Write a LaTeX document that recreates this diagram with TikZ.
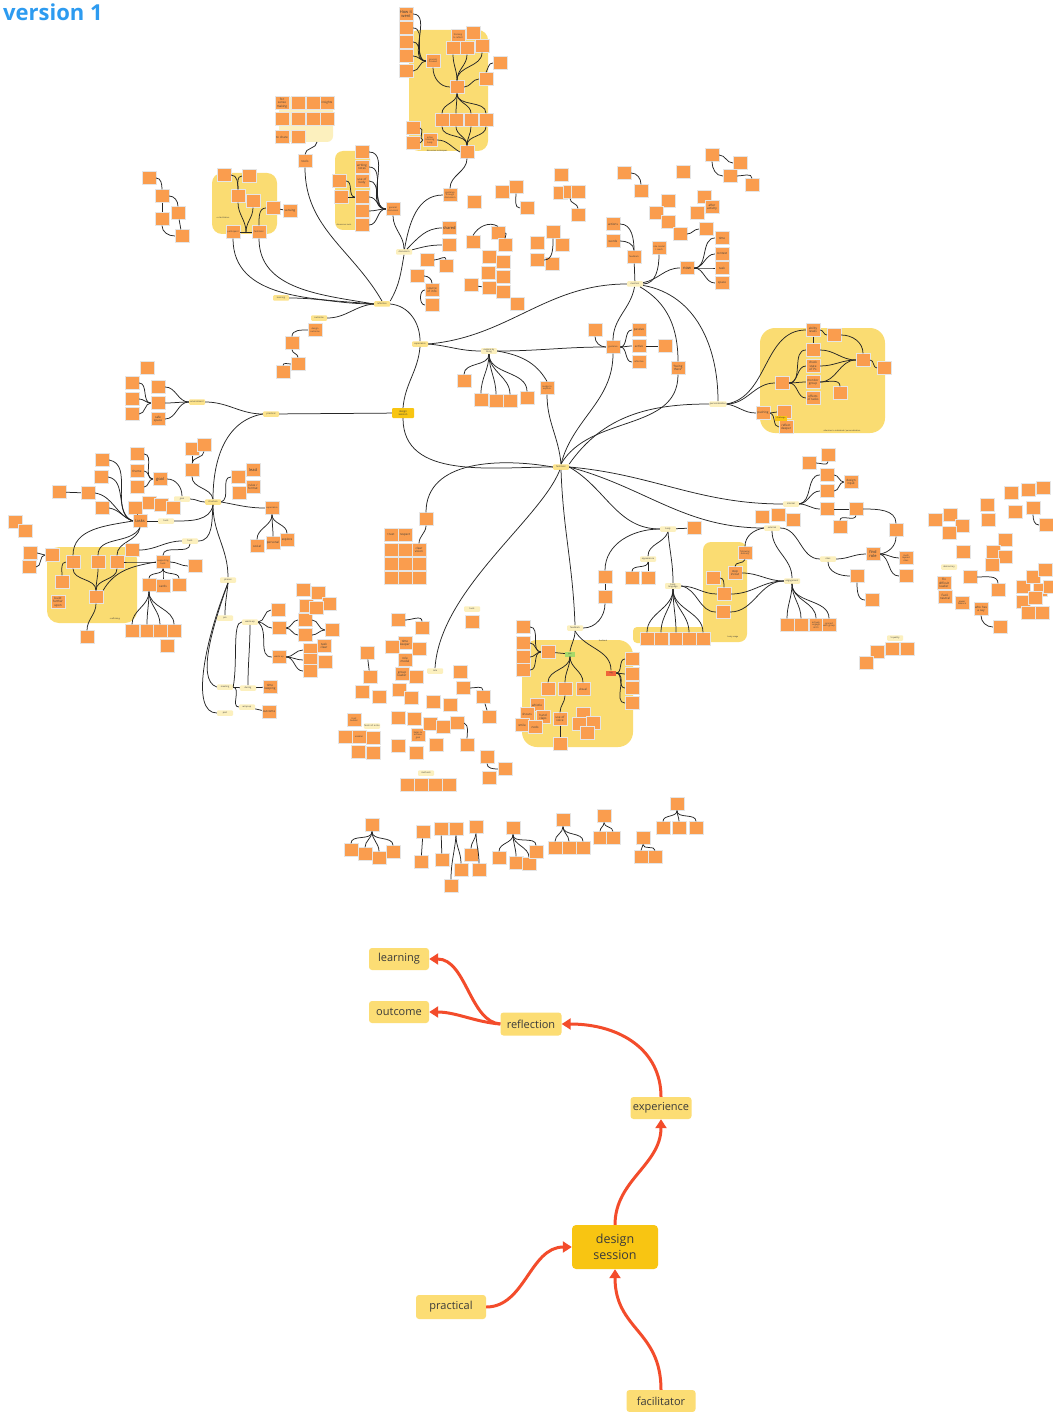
\documentclass[tikz,border=0pt]{standalone}
\usepackage{fontspec}
\setmainfont{Open Sans}
\usetikzlibrary{arrows.meta}
\definecolor{noteC}{HTML}{FA9D4E}
\definecolor{grpC}{HTML}{FADC72}
\definecolor{paleC}{HTML}{FCF0BE}
\definecolor{hubC}{HTML}{FCE38C}
\definecolor{dsC}{HTML}{F8C512}
\definecolor{bigC}{HTML}{FCDD74}
\definecolor{arrC}{HTML}{F34C2B}
\definecolor{titleC}{HTML}{2D9BF0}
\definecolor{txtC}{HTML}{3A3A3A}
\definecolor{posC}{HTML}{A6D96A}
\definecolor{negC}{HTML}{F0653A}
\newcommand\NT[5][]{\node[nt,#1] (#2) at (#3,#4) {#5};}
\newcommand\HB[5][]{\node[hb,#1] (#2) at (#3,#4) {#5};}
\newcommand\LN[4]{\draw[ln] (#1) to[out=#3,in=#4] (#2);}
\tikzset{
  nt/.style={fill=noteC, draw=black!10, line width=0.3pt, minimum width=14pt, minimum height=13pt, inner sep=0.3pt, text width=12.5pt, align=center, text=txtC, font=\fontsize{2.2}{2.5}\selectfont},
  bigt/.style={font=\fontsize{4}{4.4}\selectfont},
  midt/.style={font=\fontsize{3}{3.3}\selectfont},
  hb/.style={fill=hubC, rounded corners=1pt, minimum width=16pt, minimum height=5.5pt, inner sep=0.6pt, text=txtC, align=center, font=\fontsize{2.2}{2.5}\selectfont},
  pl/.style={fill=paleC},
  ln/.style={draw=black!85, line width=0.75pt},
  glab/.style={text=txtC, inner sep=0, font=\fontsize{2}{2.3}\selectfont},
  big/.style={fill=bigC, rounded corners=3pt, text=txtC, inner sep=0pt, align=center, font=\fontsize{11}{12}\selectfont},
  arr/.style={draw=arrC, line width=3pt, -{Triangle[length=9pt,width=11pt]}},
}
\begin{document}
\begin{tikzpicture}[x=1pt,y=-1pt]
\fill[white] (0,0) rectangle (1052,1412);
\useasboundingbox (0,0) rectangle (1052,1412);

% title
\node[anchor=north west, inner sep=0, text=titleC, font=\fontsize{22}{24}\selectfont\bfseries] (title) at (3,4) {version 1};

% ---------- group backgrounds ----------
\fill[grpC, rounded corners=10pt] (409,30) rectangle (488,151);
\fill[paleC, rounded corners=6pt] (279,97) rectangle (333,142);
\fill[grpC, rounded corners=10pt] (212,173) rectangle (277,234);
\fill[grpC, rounded corners=8pt] (335,151) rectangle (370,230);
\fill[grpC, rounded corners=15pt] (760,328) rectangle (885,433);
\fill[grpC, rounded corners=12pt] (47,547) rectangle (137,623);
\fill[grpC, rounded corners=15pt] (522,640) rectangle (633,747);
\fill[grpC, rounded corners=8pt] (703,542) rectangle (747,642);
\fill[grpC, rounded corners=4pt] (633,627) rectangle (711,643);
\node[glab] (gl1) at (437,151) {discussion techniques};
\node[glab] (gl2) at (223,218) {co-facilitation};
\node[glab] (gl3) at (344,225) {discussion tools};
\node[glab] (gl4) at (842,431) {attention to individual / personalisation};
\node[glab] (gl5) at (115,619) {scaffolding};
\node[glab] (gl6) at (603,641) {feedback};
\node[glab] (gl7) at (733,637) {body usage};

% ---------- hubs ----------
\node[fill=dsC, rounded corners=1pt, minimum width=22pt, minimum height=10pt, inner sep=0.5pt, align=center, text=txtC, font=\fontsize{2.6}{3}\selectfont] (ds) at (403,413) {design\\session};
\HB{refl}{382}{304}{reflection}
\HB{exper}{420}{344}{experience}
\HB{prac}{271}{414}{practical}
\HB{facil}{561}{467}{facilitator}
\HB{learnT}{281}{298}{learning}
\HB{outT}{319}{318}{outcome}
\HB[pl]{ebd}{489}{351}{explore by\\doing}
\HB[pl]{disc}{404}{252}{discussion}
\HB[pl]{ment}{635}{284}{mention}
\HB[pl]{pers}{718}{404}{personalisation}
\HB{struct}{213}{502}{structure}
\HB[pl]{phases}{228}{580}{phases}
\HB[pl]{goalH}{182}{499}{goal}
\HB[pl]{toolsH}{166}{521}{tools}
\HB[pl]{toolsHb}{190}{541}{tools}
\HB[pl]{internal}{791}{504}{internal}
\HB[pl]{external}{772}{528}{external}
\HB[pl]{body}{668}{529}{body}
\HB[pl]{roles}{828}{559}{roles}
\HB[pl]{engage}{792}{581}{engagement}
\HB[pl]{bodyl}{673}{586}{body\\language}
\HB[pl]{appear}{648}{559}{appearance}
\HB[pl]{fb}{575}{628}{feedback}
\HB[pl]{roleH}{435}{671}{role}
\HB[pl]{toolsHc}{472}{609}{tools}
\HB[pl]{methods}{426}{773}{methods}
\HB[pl]{facets}{372}{726}{facets of a role}
\HB[pl]{warm}{250}{622}{warm-up}
\HB[pl]{meeting}{225}{687}{meeting}
\HB[pl]{during}{248}{688}{during}
\HB[pl]{wrap}{247}{707}{wrap-up}
\HB[pl]{post}{225}{713}{post}
\HB[pl]{pre}{225}{618}{pre}
\HB[pl]{democ}{949}{567}{democracy}
\HB[pl]{qual}{895}{638}{5 quality}
\HB{envH}{197}{402}{environment}

% ---------- region A: top group ----------
\NT[bigt]{a1}{406}{14}{How it went}
\NT{a2}{406}{28}{}
\NT{a3}{406}{42}{}
\NT{a4}{406}{56}{}
\NT{a5}{406}{71}{}
\NT{a6}{433}{61}{process focused}
\NT{a7}{458}{36}{thinking to reflect}
\NT{a8}{473}{33}{}
\NT{a9}{453}{48}{}
\NT{a10}{467}{48}{}
\NT{a11}{482}{46}{}
\NT{a12}{500}{63}{}
\NT{a13}{486}{79}{}
\NT{a14}{457}{87}{}
\NT{a15}{442}{120}{}
\NT{a16}{456}{120}{}
\NT{a17}{471}{120}{}
\NT{a18}{486}{120}{}
\NT{a19}{467}{152}{}
\NT{a20}{430}{140}{active listening body}
\NT{a21}{413}{128}{}
\NT{a22}{413}{143}{}
\foreach \i in {1,...,5} {\LN{a\i.east}{a6.west}{0}{180}}
\LN{a6.south}{a14.west}{-90}{180}
\foreach \i in {9,10,11} {\LN{a\i.south}{a14.north}{-90}{90}}
\LN{a14.east}{a13.west}{0}{180}
\LN{a13.north}{a12.west}{60}{180}
\foreach \i in {15,...,18} {\LN{a14.south}{a\i.north}{-90}{90}\LN{a\i.south}{a19.north}{-90}{90}}
\LN{a20.east}{a19.west}{0}{150}
\LN{a21.east}{a20.west}{0}{180}
\LN{a22.east}{a20.west}{0}{180}

% ---------- region B: tools grid ----------
\NT[midt]{b1}{282}{103}{for sense making}
\NT{b2}{298}{103}{}
\NT{b3}{313}{103}{}
\NT[midt]{b4}{327}{103}{insights}
\NT{b5}{282}{119}{}
\NT{b6}{298}{119}{}
\NT{b7}{313}{119}{}
\NT{b8}{327}{119}{}
\NT[midt]{b9}{282}{137}{to share}
\NT{b10}{298}{137}{}
\coordinate (bB) at (317,142);
\NT[midt]{bT}{305}{161}{tools}
\LN{bB}{bT.north}{-90}{90}
\LN{bT.south}{refl.north}{-90}{120}

% ---------- region C ----------
\NT{c1}{149}{178}{}
\NT{c2}{162}{196}{}
\NT{c3}{178}{213}{}
\NT{c4}{162}{219}{}
\NT{c5}{182}{236}{}
\LN{c1.east}{c2.north}{0}{90}
\LN{c2.east}{c3.north}{0}{90}
\draw[ln] (c2) -- (c4);
\LN{c4.south}{c5.west}{-90}{180}
\draw[ln] (c3) -- (c5);

% ---------- region D ----------
\NT{d1}{224}{175}{}
\NT{d2}{249}{176}{}
\NT{d3}{238}{196}{}
\NT{d4}{253}{201}{}
\NT{d5}{273}{208}{}
\NT[midt]{d6}{290}{211}{sensing}
\NT{d7}{233}{232}{participant}
\NT{d8}{259}{232}{facilitator}
\LN{d1.east}{d3.north}{0}{90}
\LN{d2.west}{d3.north}{180}{90}
\coordinate (dj) at (246,232);
\LN{d3.south}{dj}{-90}{90}
\LN{d4.south}{dj}{-90}{90}
\draw[ln] (d7) -- (d8);
\LN{d5.west}{d8.north}{180}{90}
\draw[ln] (d5) -- (d6);
\LN{d7.south}{refl.west}{-90}{175}
\LN{d8.south}{refl.west}{-90}{170}

% ---------- region E ----------
\NT{e1}{362}{152}{}
\NT[midt]{e2}{362}{167}{writing notes}
\NT[midt]{e3}{362}{181}{use of body}
\NT{e4}{362}{197}{}
\NT{e5}{362}{211}{}
\NT{e6}{362}{225}{}
\NT{e7}{339}{181}{}
\NT{e8}{341}{197}{}
\NT{eH}{393}{209}{general discussion}
\foreach \i in {1,...,6} {\LN{e\i.east}{eH.west}{0}{180}}
\LN{e7.east}{e4.west}{0}{180}
\LN{e8.east}{e4.west}{0}{180}
\LN{eH.south}{disc.north}{-90}{90}

% ---------- region F ----------
\NT{f1}{450}{195}{guidance through discussion}
\NT[bigt]{f2}{449}{228}{shared}
\NT{f3}{449}{245}{}
\LN{disc}{f1.west}{80}{180}
\LN{disc}{f2.west}{45}{180}
\LN{disc}{f3.west}{15}{180}
\LN{a19.south}{f1.north}{-90}{90}
\LN{disc.south}{refl.north east}{-100}{60}
\NT[midt]{f4}{432}{290}{source of info}
\NT{f5}{432}{305}{}
\NT{f6}{417}{276}{}
\LN{f6.east}{f4.north}{0}{90}
\LN{f4.west}{f5.west}{180}{180}
\NT{f7}{427}{260}{}
\NT{f8}{446}{266}{}
\LN{f7.east}{f8.north}{0}{90}
\foreach \x/\y [count=\i] in {474/202,502/192,516/187,527/208,473/242,498/233,505/245,489/257,503/262,488/273,503/277,471/285,489/288,503/292,517/304,561/175,560/193,570/192,578/192,578/215,553/232,537/243,562/245,537/260,552/264} {\node[nt] (fs\i) at (\x,\y) {};}
\LN{fs6.north}{fs5.north}{150}{60}
\LN{fs6.east}{fs7.north}{0}{90}
\LN{fs3.south}{fs4.west}{-90}{180}
\draw[ln] (fs12) -- (fs13);
\LN{fs18.south}{fs20.north}{-90}{90}
\LN{fs24.east}{fs21.south}{0}{-90}

% ---------- region G: mention ----------
\NT{g1}{624}{173}{}
\NT{g2}{641}{191}{}
\LN{g1.east}{g2.north}{0}{90}
\NT{g3}{683}{172}{}
\NT{g4}{712}{155}{}
\NT{g5}{740}{163}{}
\NT{g6}{730}{176}{}
\NT{g7}{752}{185}{}
\LN{g4.east}{g5.west}{0}{180}
\LN{g4.south}{g6.west}{-90}{180}
\LN{g6.east}{g7.north}{0}{90}
\NT{g8}{704}{197}{}
\NT[midt]{g9}{712}{207}{after activity}
\NT{g10}{697}{213}{}
\NT{g11}{668}{201}{}
\NT{g12}{656}{213}{}
\NT{g13}{668}{222}{}
\NT{g14}{680}{234}{}
\NT{g15}{706}{229}{}
\LN{g14.east}{g15.west}{0}{180}
\NT[midt]{gAct}{613}{224}{actions}
\NT[midt]{gWor}{613}{241}{words}
\NT{gFb}{634}{257}{feedback}
\LN{gAct.east}{gFb.north}{0}{90}
\LN{gWor.east}{gFb.north}{0}{90}
\draw[ln] (gFb) -- (ment);
\NT{gRole}{659}{248}{role model / coach}
\LN{ment}{gRole.south}{0}{-90}
\NT[bigt]{gNow}{687}{268}{now}
\LN{ment}{gNow.west}{10}{180}
\NT[midt]{gTime}{722}{238}{time}
\NT[midt]{gCtx}{722}{254}{context}
\NT[midt]{gTask}{722}{268}{task}
\NT[midt]{gSpace}{722}{283}{space}
\foreach \n in {gTime,gCtx,gTask,gSpace} {\LN{gNow.east}{\n.west}{0}{180}}
\NT{gGuid}{613}{347}{guidance}
\LN{ment}{gGuid.north}{-100}{90}
\NT[midt]{gPass}{639}{330}{passive}
\NT[midt]{gAct2}{639}{346}{active}
\NT{gRefl}{639}{362}{reflective}
\foreach \n in {gPass,gAct2,gRefl} {\LN{gGuid.east}{\n.west}{0}{180}}
\NT{gExp}{665}{346}{}
\draw[ln] (gAct2) -- (gExp);
\NT{gG0}{595}{330}{}
\LN{gG0.south}{gGuid.west}{-90}{180}
\NT[midt]{gBeing}{678}{368}{``being there''}
\LN{ment}{gBeing.north}{-30}{90}
\LN{ment}{pers.north}{-10}{90}
\LN{exper.east}{ment.west}{5}{180}
\LN{exper.east}{ebd.west}{-5}{180}
\LN{ebd.east}{gGuid.west}{0}{180}
\NT{h1}{464}{381}{}
\NT{h2}{481}{400}{}
\NT{h3}{496}{401}{}
\NT{h4}{510}{401}{}
\NT{h5}{527}{398}{}
\NT{h6}{547}{388}{nudge to explore}
\foreach \i in {1,...,5} {\LN{ebd.south}{h\i.north}{-90}{90}}
\LN{ebd.east}{h6.north}{-10}{120}
\LN{facil.north}{h6.south}{95}{-90}
\LN{facil.north}{gGuid.south}{75}{-90}
\LN{facil.north}{gBeing.south}{60}{-90}
\LN{facil.north east}{pers.west}{55}{180}

% ---------- personalisation group ----------
\NT[midt]{p1}{813}{330}{ability levels}
\NT{p2}{834}{335}{}
\NT{p3}{813}{350}{}
\NT[midt]{p4}{813}{366}{check state of Ps}
\NT[midt]{p5}{813}{382}{monitor group}
\NT[midt]{p6}{813}{398}{effects of tasks}
\NT{p7}{782}{383}{}
\NT{p8}{863}{360}{}
\NT{p9}{884}{368}{}
\NT{p10}{840}{393}{}
\NT[midt]{p11}{763}{413}{pushing}
\NT{p12}{784}{412}{}
\NT[midt]{p13}{786}{427}{reflect deeper}
\node[fill=dsC, minimum width=12pt, minimum height=5pt, inner sep=0.3pt, font=\fontsize{2}{2.3}\selectfont, text=txtC] (p14) at (781,418) {challenge};
\LN{pers.east}{p7.west}{0}{180}
\LN{pers.east}{p1.west}{10}{180}
\LN{pers.east}{p11.west}{-10}{180}
\foreach \i in {3,4,5,6} {\LN{p7.east}{p\i.west}{0}{180}}
\draw[ln] (p1) -- (p3);
\LN{p1.east}{p2.west}{0}{180}
\LN{p2.east}{p8.north}{0}{90}
\foreach \i in {3,4,5} {\LN{p\i.east}{p8.west}{0}{180}}
\LN{p8.east}{p9.west}{0}{180}
\LN{p5.east}{p10.north}{0}{90}
\LN{p11.east}{p12.west}{0}{180}
\LN{p11.east}{p13.west}{-20}{180}

% ---------- learning / outcome ----------
\LN{refl.west}{learnT.east}{180}{0}
\LN{refl.west}{outT.east}{185}{0}
\NT{k1}{315}{330}{design outcome}
\NT{k2}{292}{343}{}
\NT{k3}{298}{364}{}
\NT{k4}{283}{372}{}
\LN{k1.west}{k2.north}{180}{90}
\LN{k2.south}{k3.north}{-90}{90}
\LN{k3.west}{k4.north}{180}{90}

% ---------- practical ----------
\draw[ln] (prac) -- (ds);
\LN{prac.west}{envH.east}{180}{0}
\LN{prac.west}{struct.north}{190}{90}
\NT{v1}{147}{368}{}
\NT{v2}{132}{383}{}
\NT{v3}{132}{399}{}
\NT{v4}{132}{414}{}
\NT{v5}{158}{387}{}
\NT{v6}{158}{403}{}
\NT[midt]{v7}{158}{419}{safe space}
\foreach \i in {5,6,7} {\LN{v\i.east}{envH.west}{0}{180}}
\foreach \i in {2,3,4} {\LN{v\i.east}{v6.west}{0}{180}}
\LN{exper.south}{ds.north}{-95}{85}
\LN{refl.east}{exper.north}{-5}{90}
\LN{ds.south}{facil.west}{-90}{180}

% ---------- structure ----------
\NT{s1}{192}{449}{}
\NT{s2}{204}{445}{}
\NT{s3}{192}{470}{}
\draw[ln] (s1) -- (s3);
\LN{s2.south}{s3.north}{-90}{90}
\LN{s3.south}{struct.north}{-90}{100}
\NT{s4}{238}{477}{}
\NT[bigt]{s5}{253}{470}{lead}
\NT[midt]{s6}{253}{487}{rules / format}
\NT{s7}{239}{493}{}
\LN{struct.east}{s4.west}{20}{180}
\LN{struct.west}{goalH.east}{180}{0}
\NT[bigt]{sGoal}{160}{479}{goal}
\LN{sGoal.east}{goalH.north}{0}{90}
\NT{s8}{137}{454}{}
\NT[midt]{s9}{137}{471}{theme}
\NT{s10}{137}{487}{}
\foreach \i in {8,9,10} {\LN{s\i.east}{sGoal.west}{0}{180}}
\NT{s11}{149}{503}{}
\NT{s12}{161}{505}{}
\NT{s13}{173}{508}{}
\LN{struct.south}{toolsH.east}{-100}{0}
\NT[bigt]{sTasks}{140}{521}{tasks}
\draw[ln] (toolsH) -- (sTasks);
\NT{t1}{102}{460}{}
\NT{t2}{101}{477}{}
\NT{t3}{88}{493}{}
\NT{t4}{102}{508}{}
\NT{t5}{135}{508}{}
\NT{t6}{59}{492}{}
\foreach \i in {1,2,3,4} {\LN{t\i.east}{sTasks.west}{-10}{160}}
\draw[ln] (t5) -- (sTasks);
\draw[ln] (t6) -- (t3);
\NT{sc1}{73}{562}{}
\NT{sc2}{98}{562}{}
\NT{sc3}{117}{562}{}
\NT{sc4}{62}{582}{}
\NT[midt]{sc5}{58}{602}{build further upon}
\NT{sc6}{96}{597}{}
\NT{sc7}{87}{637}{}
\NT{scH}{52}{555}{}
\NT{x1}{30}{553}{}
\NT{x2}{29}{567}{}
\LN{sTasks.west}{sc1.north}{190}{90}
\LN{sTasks.south}{sc2.north}{-120}{90}
\LN{sTasks.south}{sc3.north}{-100}{90}
\LN{x1.east}{scH.west}{0}{180}
\LN{x2.east}{scH.west}{0}{180}
\LN{sc1.west}{sc4.north}{180}{90}
\foreach \i in {1,2,3} {\LN{sc\i.south}{sc6.north}{-90}{90}}
\LN{sc6.south}{sc7.north}{-90}{90}
\LN{struct.south}{toolsHb.east}{-95}{0}
\NT{r1}{132}{550}{}
\LN{toolsHb.west}{r1.east}{180}{0}
\NT{sSup}{163}{562}{supporting tools}
\LN{toolsHb.south}{sSup.north}{-90}{90}
\LN{sSup.west}{sc3.east}{180}{0}
\LN{sSup.west}{sc6.north east}{190}{60}
\NT{r2}{195}{566}{}
\LN{sSup.east}{r2.west}{0}{180}
\NT{q1}{149}{585}{}
\NT[midt]{q2}{163}{586}{cards}
\NT{q3}{179}{585}{}
\foreach \i in {1,2,3} {\LN{sSup.south}{q\i.north}{-90}{90}}
\NT{q4}{132}{631}{}
\NT{q5}{147}{631}{}
\NT{q6}{160}{631}{}
\NT{q7}{174}{631}{}
\NT{q8}{167}{646}{}
\foreach \i in {4,...,7} {\LN{q1.south}{q\i.north}{-90}{90}}
\NT{sExp}{272}{508}{experience}
\LN{struct.east}{sExp.west}{-10}{180}
\NT[midt]{se1}{257}{546}{social}
\NT[midt]{se2}{273}{543}{personal}
\NT[midt]{se3}{287}{540}{explore}
\foreach \i in {1,2,3} {\LN{sExp.south}{se\i.north}{-90}{90}}
\NT{ls1}{15}{522}{}
\NT{ls2}{25}{531}{}

% ---------- phases ----------
\LN{struct.south}{phases.north}{-90}{90}
\LN{phases.south}{pre.north}{-95}{90}
\draw[ln] (phases.south) .. controls (215,620) and (195,680) .. (meeting.west);
\draw[ln] (phases.south) .. controls (205,640) and (190,713) .. (post.west);
\draw[ln] (meeting.east) .. controls (238,660) and (232,622) .. (warm.west);
\draw[ln] (meeting) -- (during);
\LN{meeting.east}{wrap.west}{-10}{180}
\LN{warm.south}{during.north}{-90}{90}
\NT{w1}{278}{610}{}
\NT{w2}{279}{628}{}
\NT{w3}{279}{657}{warm up}
\LN{warm.east}{w1.west}{0}{180}
\LN{warm.east}{w2.west}{0}{180}
\LN{warm.east}{w3.west}{-40}{180}
\NT{w4}{305}{620}{}
\NT{w5}{305}{635}{}
\NT{w6}{332}{630}{}
\LN{w2.east}{w4.west}{0}{180}
\LN{w2.east}{w5.west}{0}{180}
\LN{w4.east}{w6.west}{0}{180}
\LN{w5.east}{w6.west}{0}{180}
\NT{w7}{310}{650}{}
\NT[midt]{w8}{324}{646}{task clear}
\NT{w9}{310}{660}{}
\NT{w10}{325}{662}{}
\NT{w11}{310}{671}{}
\foreach \i in {7,9,11} {\LN{w3.east}{w\i.west}{0}{180}}
\foreach \x/\y [count=\i] in {303/590,318/593,329/604,306/606,316/608} {\node[nt] (ws\i) at (\x,\y) {};}
\NT[midt]{wTime}{270}{687}{time keeping}
\NT[midt]{wOut}{269}{712}{outcome}
\draw[ln] (during) -- (wTime);
\draw[ln] (wrap) -- (wOut);

% ---------- lower middle ----------
\NT{hN1}{426}{519}{}
\LN{facil.west}{hN1.north}{170}{90}
\NT[midt]{tr1}{391}{535}{trust}
\NT[midt]{tr2}{405}{535}{respect}
\NT{tr3}{391}{550}{}
\NT{tr4}{405}{550}{}
\NT[midt]{tr5}{419}{550}{clear vision}
\foreach \x/\y [count=\i] in {391/564,405/564,419/564,391/578,405/578,419/578} {\node[nt] (trx\i) at (\x,\y) {};}
\LN{hN1.south}{tr5.north}{-90}{90}
\draw[ln] (facil) .. controls (540,520) and (440,590) .. (roleH.north);
\LN{facil.south}{fb.north}{-88}{92}
\LN{facil.east}{body.west}{-30}{180}
\LN{facil.east}{external.west}{-15}{180}
\LN{facil.east}{internal.west}{-5}{180}
\NT{tc1}{472}{622}{}
\NT{lmA}{398}{620}{}
\NT{lmB}{422}{628}{}
\LN{lmA.east}{lmB.north}{0}{90}
\NT{lmC}{367}{653}{}
\NT{lmD}{370}{677}{}
\draw[ln] (lmC) -- (lmD);
\NT{lmE}{463}{688}{}
\NT{lmF}{483}{697}{}
\LN{lmE.east}{lmF.north}{0}{90}
\NT{lmN}{489}{717}{}
\draw[ln] (lmF) -- (lmN);
\NT{lmH}{457}{723}{}
\NT{lmI}{467}{745}{}
\LN{lmH.east}{lmI.north}{-30}{90}
\NT{lmJ}{487}{757}{}
\NT{lmK}{505}{769}{}
\NT{lmL}{489}{778}{}
\LN{lmJ.south}{lmK.west}{-90}{180}
\NT[midt]{lmP}{405}{643}{time keeper}
\NT[midt]{lmQ}{405}{660}{role model}
\NT[midt]{lmR}{402}{674}{group leader}
\NT{lmS}{354}{720}{trust builder}
\NT{lmT}{359}{737}{enabler}
\NT{lmU}{418}{735}{helps to achieve goal}
\foreach \x/\y [count=\i] in {392/647,419/649,416/677,362/692,379/697,399/690,411/698,433/702,450/705,460/672,398/718,414/719,430/724,443/727,398/746,416/753,436/745,345/737,373/738,358/752,373/753} {\node[nt] (lm\i) at (\x,\y) {};}
\foreach \x [count=\i] in {407,421,435,449} {\node[nt] (mt\i) at (\x,785) {};}

% ---------- feedback group ----------
\node[fill=posC, minimum width=10pt, minimum height=5pt, inner sep=0.3pt, font=\fontsize{2}{2.3}\selectfont, text=txtC] (fPos) at (570,654) {pos};
\node[fill=negC, minimum width=10pt, minimum height=5pt, inner sep=0.3pt, font=\fontsize{2}{2.3}\selectfont, text=txtC] (fNeg) at (611,673) {neg};
\LN{fb.south}{fPos.north}{-90}{80}
\LN{fb.south}{fNeg.north}{-60}{90}
\NT{fPosN}{548}{652}{}
\draw[ln] (fPosN) -- (fPos);
\foreach \y [count=\i] in {627,643,657,670} {\node[nt] (fl\i) at (523,\y) {}; \LN{fl\i.east}{fPosN.west}{0}{180}}
\NT{fv1}{548}{689}{}
\NT{fv2}{565}{689}{}
\NT[midt]{fv3}{583}{689}{visual}
\foreach \i in {1,2,3} {\LN{fPos.south}{fv\i.north}{-90}{90}}
\NT[midt]{fV}{560}{719}{use of voice}
\NT{fV2}{560}{744}{}
\LN{fv2.south}{fV.north}{-90}{90}
\draw[ln] (fV) -- (fV2);
\NT[midt]{hd1}{537}{705}{whistle}
\NT[midt]{hd2}{527}{714}{shouts}
\NT[midt]{hd3}{543}{717}{hand claps}
\NT[midt]{hd4}{522}{725}{smile}
\NT[midt]{hd5}{535}{727}{nods}
\foreach \x/\y [count=\i] in {583/714,579/724,593/723,587/733} {\node[nt] (hx\i) at (\x,\y) {};}
\foreach \y [count=\i] in {659,674,688,703} {\node[nt] (fn\i) at (632,\y) {}; \LN{fNeg.east}{fn\i.west}{0}{180}}
\NT{fbN1}{605}{577}{}
\NT{fbN2}{605}{597}{}
\LN{body.west}{fbN1.north}{180}{90}
\draw[ln] (fbN1) -- (fbN2);
\LN{fbN2.south}{fb.east}{-90}{0}

% ---------- body ----------
\LN{body.south}{appear.north}{-110}{90}
\NT{ap1}{632}{578}{}
\NT{ap2}{648}{578}{}
\LN{appear.south}{ap1.north}{-90}{90}
\LN{appear.south}{ap2.north}{-90}{90}
\LN{body.south}{bodyl.north}{-85}{90}
\NT{bod1}{694}{528}{}
\draw[ln] (body) -- (bod1);
\foreach \x [count=\i] in {647,661,676,689,703} {\node[nt] (bl\i) at (\x,639) {}; \LN{bodyl.south}{bl\i.north}{-90}{90}}
\NT{bu1}{745}{553}{following delivery}
\NT[midt]{bu2}{735}{573}{step in/out}
\NT{bu3}{713}{578}{}
\NT{bu4}{724}{594}{}
\NT{bu5}{723}{612}{}
\LN{external.west}{bu1.north}{190}{90}
\LN{bu1.south}{bu2.north}{-110}{90}
\LN{bu3.east}{bu4.north}{0}{90}
\LN{bu2.east}{engage.west}{0}{180}
\LN{bu4.east}{engage.west}{0}{180}
\LN{bu5.east}{engage.west}{0}{180}
\LN{bodyl.east}{bu4.west}{0}{180}
\LN{bodyl.east}{bu5.west}{-10}{180}
\LN{external.south}{engage.north}{-90}{90}
\LN{external.east}{roles.west}{0}{180}
\NT{en1}{787}{625}{}
\NT{en2}{801}{625}{}
\NT{en3}{816}{625}{actively engage all Ps}
\NT{en4}{829}{625}{connect with group}
\foreach \i in {1,...,4} {\LN{engage.south}{en\i.north}{-90}{90}}
\NT[bigt]{rFind}{873}{554}{find role}
\LN{roles.east}{rFind.west}{0}{180}
\NT{rr1}{906}{558}{multi layered roles}
\NT{rr2}{906}{576}{}
\LN{rFind.east}{rr1.west}{0}{180}
\LN{rFind.east}{rr2.west}{-20}{180}
\NT{rr3}{857}{576}{}
\NT{rr4}{872}{600}{}
\LN{roles.south}{rr3.west}{-90}{180}
\LN{rr3.south}{rr4.west}{-90}{180}
\NT{iR}{896}{530}{}
\NT{i1}{827}{475}{}
\NT{i2}{827}{491}{}
\NT[midt]{i3}{851}{482}{design input}
\NT{i5}{827}{509}{}
\NT{i6}{856}{509}{}
\NT{i7}{840}{527}{}
\NT{i8}{809}{463}{}
\NT{i9}{828}{455}{}
\LN{rFind.east}{iR.south}{10}{-90}
\LN{iR.north}{i6.east}{90}{0}
\LN{internal.east}{i1.west}{10}{180}
\LN{internal.east}{i2.west}{5}{180}
\LN{i1.east}{i3.west}{0}{180}
\LN{i2.east}{i3.west}{0}{180}
\LN{internal.east}{i5.west}{0}{180}
\draw[ln] (i5) -- (i6);
\LN{i6.south}{i7.north}{-100}{90}
\LN{i8.east}{i9.south}{0}{-90}
\foreach \x/\y [count=\i] in {762/517,778/515,793/520} {\node[nt] (ex\i) at (\x,\y) {};}

% ---------- far right cluster ----------
\foreach \x/\y [count=\i] in {935/520,950/515,962/526,949/533,963/552,988/520,1011/493,1028/490,1043/488,987/505,1015/512,1033/508,1046/525,1005/540,993/552,1005/557,992/565,998/590,1023/587,1033/577,1045/570,1040/590,1023/602,1035/598,1028/613,1042/613,1050/587} {\node[nt] (rf\i) at (\x,\y) {};}
\NT[midt]{rfA}{944}{583}{Fix difficult leader}
\NT[midt]{rfB}{945}{597}{Facil. neutral}
\NT{rfC}{962}{603}{power balance}
\NT{rfD}{970}{577}{}
\NT[midt]{rfE}{981}{609}{who has a say}
\NT{rfF}{1000}{627}{}
\LN{rfE.south}{rfF.west}{-90}{180}
\LN{rfD.east}{rf18.north}{0}{90}
\LN{rf12.south}{rf13.west}{-90}{180}
\foreach \x/\y [count=\i] in {892/649,907/649,877/652,866/663} {\node[nt] (qn\i) at (\x,\y) {};}

% ---------- bottom row ----------
\NT{j1}{372}{825}{}
\foreach \x/\y [count=\i] in {351/850,365/854,379/858,393/852} {\node[nt] (j1\i) at (\x,\y) {}; \LN{j1.south}{j1\i.north}{-90}{90}}
\NT{j2}{423}{832}{}
\NT{j2a}{421}{862}{}
\draw[ln] (j2) -- (j2a);
\NT{j3}{441}{829}{}
\NT{j3a}{442}{860}{}
\draw[ln] (j3) -- (j3a);
\NT{j4}{456}{829}{}
\NT{j4a}{461}{870}{}
\NT{j4b}{451}{886}{}
\LN{j4.south}{j4a.north}{-90}{90}
\LN{j4.south}{j4b.north}{-95}{90}
\NT{j5}{476}{827}{}
\NT{j5a}{471}{855}{}
\NT{j5b}{479}{870}{}
\LN{j5.south}{j5a.north}{-95}{90}
\LN{j5.south}{j5b.north}{-88}{90}
\NT{j6}{513}{828}{}
\foreach \x/\y [count=\i] in {499/858,516/863,529/864,536/852} {\node[nt] (j6\i) at (\x,\y) {}; \LN{j6.south}{j6\i.north}{-90}{90}}
\NT{j7}{563}{820}{}
\foreach \x [count=\i] in {555,569,583} {\node[nt] (j7\i) at (\x,848) {}; \LN{j7.south}{j7\i.north}{-90}{90}}
\NT{j8}{604}{816}{}
\foreach \x [count=\i] in {600,613} {\node[nt] (j8\i) at (\x,838) {}; \LN{j8.south}{j8\i.north}{-90}{90}}
\NT{j9}{677}{804}{}
\foreach \x [count=\i] in {663,679,696} {\node[nt] (j9\i) at (\x,828) {}; \LN{j9.south}{j9\i.north}{-90}{90}}
\NT{j10}{643}{838}{}
\foreach \x [count=\i] in {641,655} {\node[nt] (j10\i) at (\x,857) {}; \LN{j10.south}{j10\i.north}{-90}{90}}

% ---------- bottom diagram ----------
\node[big, minimum width=60pt, minimum height=22pt] (learning) at (399,959) {learning};
\node[big, minimum width=60pt, minimum height=22pt] (outcome) at (399,1012) {outcome};
\node[big, minimum width=61pt, minimum height=23pt] (reflection) at (531,1024) {reflection};
\node[big, minimum width=61pt, minimum height=22pt] (experience) at (661,1108) {experience};
\node[big, fill=dsC, minimum width=86pt, minimum height=44pt, rounded corners=4pt, font=\fontsize{12.5}{15.5}\selectfont] (design) at (615,1247) {design\\session};
\node[big, minimum width=70pt, minimum height=24pt] (practical) at (451,1307) {practical};
\node[big, minimum width=69pt, minimum height=22pt] (facilitator) at (661,1401) {facilitator};
\draw[arr] (reflection.west) .. controls (470,1022) and (466,959) .. (learning.east);
\draw[arr] (reflection.west) .. controls (475,1022) and (456,1012) .. (outcome.east);
\draw[arr] (experience.north) .. controls (661,1050) and (620,1024) .. (reflection.east);
\draw[arr] (design.north) .. controls (615,1180) and (661,1165) .. (experience.south);
\draw[arr] (practical.east) .. controls (525,1307) and (530,1247) .. (design.west);
\draw[arr] (facilitator.north) .. controls (661,1330) and (615,1330) .. (design.south);
\end{tikzpicture}
\end{document}
